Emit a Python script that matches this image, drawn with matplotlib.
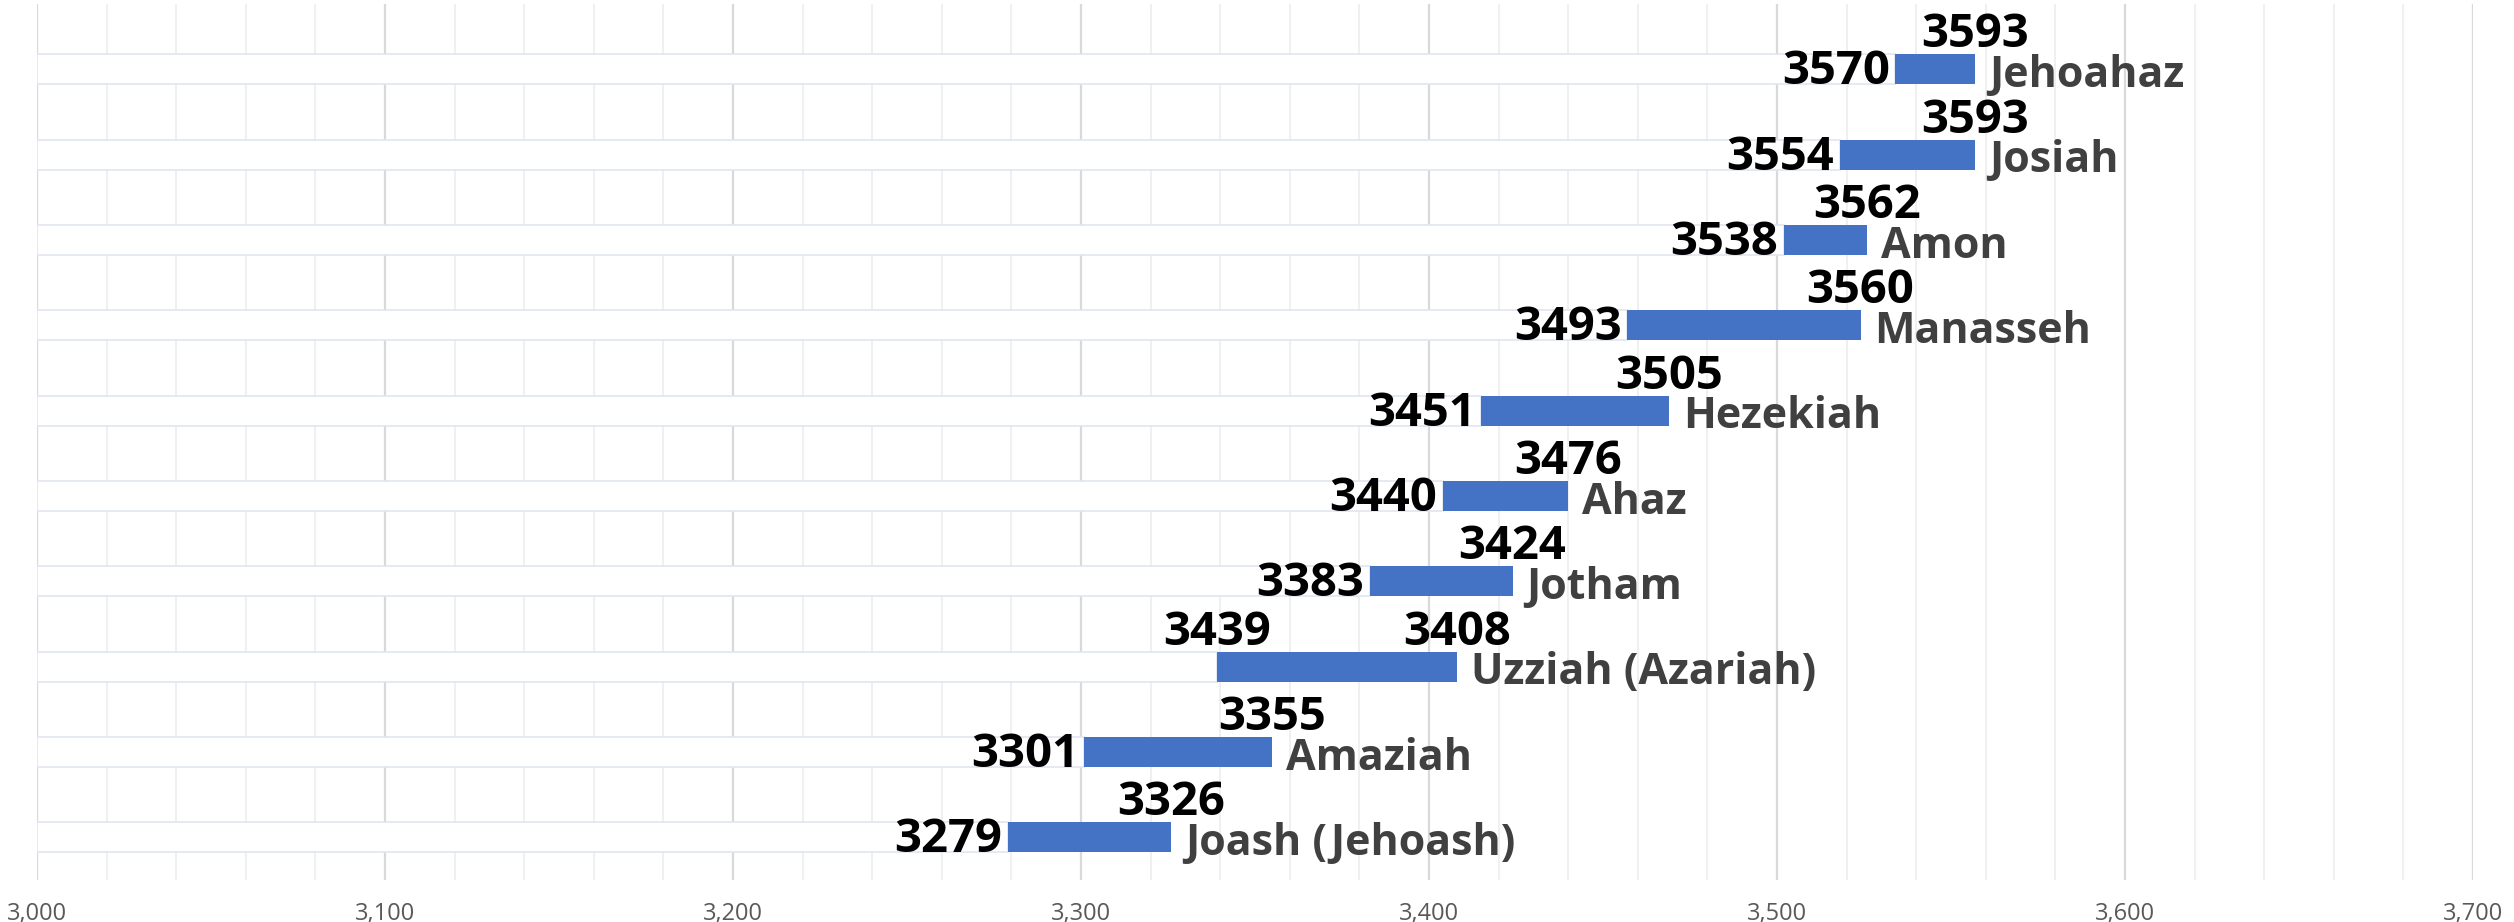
import matplotlib.pyplot as plt
from matplotlib.ticker import MultipleLocator, FuncFormatter

# kings of Judah, bottom row first
kings = ["Joash (Jehoash)", "Amaziah", "Uzziah (Azariah)", "Jotham", "Ahaz",
         "Hezekiah", "Manasseh", "Amon", "Josiah", "Jehoahaz"]
bar_start = [3279, 3301, 3339, 3383, 3404, 3415, 3457, 3502, 3518, 3534]
bar_end = [3326, 3355, 3408, 3424, 3440, 3469, 3524, 3526, 3557, 3557]

# year labels typed next to each reign
start_labels = ["3279", "3301", "3439", "3383", "3440", "3451", "3493", "3538", "3554", "3570"]
end_labels = ["3326", "3355", "3408", "3424", "3476", "3505", "3560", "3562", "3593", "3593"]

BLUE = "#4472C4"
BAR_H = 0.352
YEAR_SIZE = 34
NAME_SIZE = 31

plt.rcParams['font.family'] = ['Open Sans', 'DejaVu Sans']

fig = plt.figure(figsize=(25.14, 9.22), dpi=100)
ax = fig.add_axes([0.01472, 0.04555, 0.96897, 0.95011])

rows = list(range(len(kings)))
lengths = [e - s for s, e in zip(bar_start, bar_end)]
offsets = [s - 3000 for s in bar_start]

# white spacer segment from the axis start, then the reign itself
ax.barh(rows, offsets, left=3000, height=BAR_H, color="white",
        edgecolor="#DFE5F1", linewidth=1.2, zorder=2)
ax.barh(rows, lengths, left=bar_start, height=BAR_H, color=BLUE, zorder=3)

for i in rows:
    lo = i - BAR_H / 2
    hi = i + BAR_H / 2
    if kings[i].startswith("Uzziah"):
        # this start label sits above the bar
        ax.annotate(start_labels[i], (bar_start[i], hi), xytext=(0, 5),
                    textcoords="offset points", ha="center", va="baseline",
                    fontsize=YEAR_SIZE, fontweight="bold", color="black", zorder=4)
    else:
        ax.annotate(start_labels[i], (bar_start[i], lo), xytext=(-4, 0),
                    textcoords="offset points", ha="right", va="baseline",
                    fontsize=YEAR_SIZE, fontweight="bold", color="black", zorder=4)
    ax.annotate(end_labels[i], (bar_end[i], hi), xytext=(0, 5),
                textcoords="offset points", ha="center", va="baseline",
                fontsize=YEAR_SIZE, fontweight="bold", color="black", zorder=4)
    ax.annotate(kings[i], (bar_end[i], lo), xytext=(10, -2),
                textcoords="offset points", ha="left", va="baseline",
                fontsize=NAME_SIZE, fontweight="bold", color="#404040", zorder=4)

ax.set_xlim(3000, 3700)
ax.set_ylim(-0.5, 9.766)

ax.xaxis.set_major_locator(MultipleLocator(100))
ax.xaxis.set_minor_locator(MultipleLocator(20))
ax.xaxis.set_major_formatter(FuncFormatter(lambda v, p: f"{int(v):,}"))
ax.grid(which="major", axis="x", color="#D9D9D9", linewidth=1.6, zorder=0)
ax.grid(which="minor", axis="x", color="#F0F0F0", linewidth=1.4, zorder=0)
ax.set_axisbelow(True)

ax.set_yticks([])
ax.tick_params(axis="x", which="both", length=0, pad=16, labelsize=17, labelcolor="#595959")
for side in ["top", "right", "bottom", "left"]:
    ax.spines[side].set_visible(False)

fig.savefig("out.png", dpi=100)
